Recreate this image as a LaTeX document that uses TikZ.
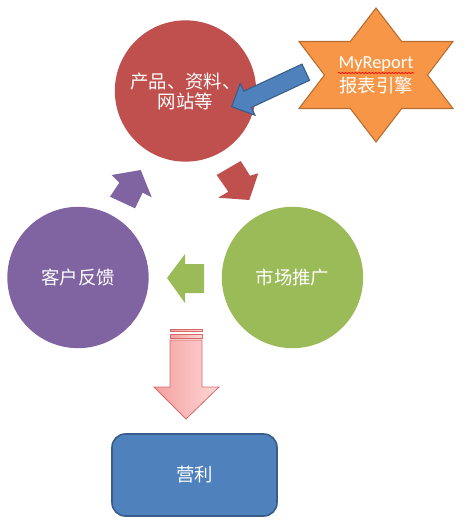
\documentclass[tikz,border=0pt]{standalone}
\usepackage{fontspec}
\setmainfont{Carlito}
\newfontfamily\cjk{Noto Sans CJK SC}
\usepackage{xcolor}
\usepackage{tikz}
\usetikzlibrary{decorations.pathmorphing}
\definecolor{cycRed}{HTML}{C0504D}
\definecolor{cycGreen}{HTML}{9BBB59}
\definecolor{cycPurple}{HTML}{8064A2}
\definecolor{cycBlue}{HTML}{4F81BD}
\definecolor{cycBlueEdge}{HTML}{385D8A}
\definecolor{cycOrange}{HTML}{F79646}
\definecolor{cycOrangeEdge}{HTML}{B66D31}
\definecolor{pinkDark}{RGB}{244,160,160}
\definecolor{pinkLight}{RGB}{255,214,214}
\definecolor{pinkEdge}{RGB}{214,104,104}

\begin{document}
\begin{tikzpicture}[x=0.75pt,y=-0.75pt,every node/.style={text=white,font=\cjk\fontsize{13.8}{15}\selectfont},
  bubble/.style={circle,inner sep=0pt,minimum size=106pt,align=center},
  stripe/.style={draw=pinkEdge,line width=.6pt,left color=pinkDark,right color=pinkLight}]
\useasboundingbox (0,0) rectangle (465,532);
\node[bubble,fill=cycRed] (prod) at (185.5,91) {产品、资料、\\网站等};
\node[bubble,fill=cycPurple] (feedback) at (78,277.5) {客户反馈};
\node[bubble,fill=cycGreen] (market) at (292.5,277.5) {市场推广};
\draw[draw=cycOrangeEdge,fill=cycOrange,line width=.8pt] (376,8)--(401.7,41.5)--(453,41.5)--(427.5,75)--(453,108.5)--(401.7,108.5)--(376,142)--(350.3,108.5)--(299,108.5)--(324.5,75)--(299,41.5)--(350.3,41.5)--cycle;
\node[align=center,font=\cjk\fontsize{13.8}{18}\selectfont] (engine) at (376,75) {{\rmfamily MyReport}\\报表引擎};
\draw[red,line width=.5pt,decorate,decoration={snake,amplitude=.5pt,segment length=2.5pt}] (338,73)--(414,73);
\draw[draw=cycBlueEdge,fill=cycBlue,line width=.8pt] (231.7,106.7)--(240.2,83.4)--(243.8,91.2)--(302,64.1)--(309.6,80.3)--(251.4,107.4)--(255,115.2)--cycle;
\fill[cycRed] (216.7,175)--(240.7,161)--(250,175.7)--(258.3,173.3)--(249.3,200)--(218.3,197.7)--(228.3,191.7)--cycle;
\fill[cycPurple] (140.7,170)--(151.7,197.3)--(142.7,192.7)--(135,208.3)--(110,196.7)--(119.3,182.7)--(111.7,175)--cycle;
\fill[cycGreen] (167,278)--(185,254)--(185,264)--(204,264)--(204,293)--(185,293)--(185,303)--cycle;
\draw[stripe] (170,329.3) rectangle (202,331.3);
\draw[stripe] (170,334) rectangle (202,338.5);
\draw[stripe] (170,340)--(202,340)--(202,387)--(219,387)--(186,419)--(154,387)--(170,387)--cycle;
\node[draw=cycBlueEdge,fill=cycBlue,rounded corners=10pt,line width=1.2pt,minimum width=123.75pt,minimum height=61.5pt] (profit) at (194.5,475) {营利};
\end{tikzpicture}
\end{document}
